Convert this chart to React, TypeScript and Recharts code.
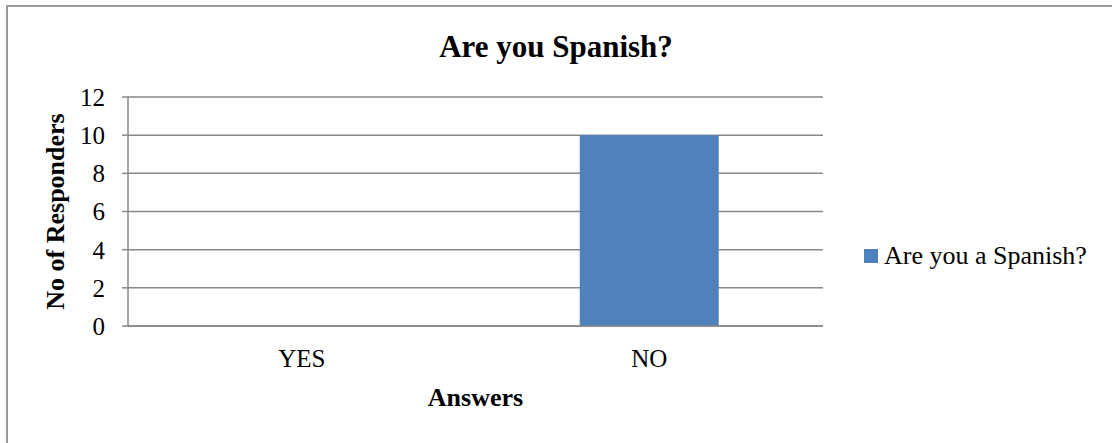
import React from "react";
import {
  BarChart,
  Bar,
  XAxis,
  YAxis,
  CartesianGrid,
  Legend,
  Label,
} from "recharts";

// ---- Data ------------------------------------------------------------------
const answers = ["YES", "NO"];
const responders = [0, 10];
const yTicks = [0, 2, 4, 6, 8, 10, 12];
const seriesName = "Are you a Spanish?";

const chartData = answers.map((a, i) => ({ answer: a, value: responders[i] }));

// ---- Styles ----------------------------------------------------------------
const FONT = "'Liberation Serif', 'Times New Roman', serif";
const BAR = "#4f81bd";
const GRID = "#878787";

const LegendBox = () => (
  <div
    style={{
      display: "flex",
      alignItems: "center",
      fontFamily: FONT,
      fontSize: 26,
      color: "#000",
      whiteSpace: "nowrap",
    }}
  >
    <span
      style={{
        display: "inline-block",
        width: 14,
        height: 14,
        background: BAR,
        marginRight: 6,
      }}
    />
    <span>{seriesName}</span>
  </div>
);

const App: React.FC = () => {
  return (
    <div
      style={{
        position: "absolute",
        left: 0,
        top: 0,
        width: 1112,
        height: 443,
        overflow: "hidden",
        background: "#fff",
      }}
    >
      {/* frame (only top + left edges visible in the crop) */}
      <div
        style={{
          position: "absolute",
          left: 6,
          top: 5,
          width: 2000,
          height: 2000,
          border: "2px solid #9a9a9a",
        }}
      />

      <div
        style={{
          position: "absolute",
          left: 0,
          top: 31,
          width: 1112,
          textAlign: "center",
          fontFamily: FONT,
          fontWeight: "bold",
          fontSize: 31,
          lineHeight: "31px",
          color: "#000",
        }}
      >
        Are you Spanish?
      </div>

      <div style={{ position: "absolute", left: 0, top: 0 }}>
        <BarChart
          width={1112}
          height={443}
          data={chartData}
          margin={{ top: 97, right: 289, left: 0, bottom: 0 }}
          barCategoryGap="30%"
        >
          <CartesianGrid vertical={false} stroke={GRID} strokeWidth={1.5} />
          <XAxis
            dataKey="answer"
            height={117}
            tickLine={false}
            tickSize={0}
            tickMargin={23}
            axisLine={{ stroke: GRID, strokeWidth: 1.5 }}
            tick={{ fontFamily: FONT, fontSize: 25, fill: "#000" }}
          >
            <Label
              value="Answers"
              position="center"
              dy={12}
              style={{
                fontFamily: FONT,
                fontSize: 26,
                fontWeight: "bold",
                fill: "#000",
              }}
            />
          </XAxis>
          <YAxis
            width={128}
            domain={[0, 12]}
            ticks={yTicks}
            interval={0}
            tickSize={6}
            tickMargin={17}
            axisLine={{ stroke: GRID, strokeWidth: 1.5 }}
            tickLine={{ stroke: GRID, strokeWidth: 1.5 }}
            tick={{ fontFamily: FONT, fontSize: 25, fill: "#000" }}
          >
            <Label
              value="No of Responders"
              angle={-90}
              position="center"
              dx={-9}
              style={{
                fontFamily: FONT,
                fontSize: 26,
                fontWeight: "bold",
                fill: "#000",
                textAnchor: "middle",
              }}
            />
          </YAxis>
          <Legend
            layout="horizontal"
            align="center"
            verticalAlign="middle"
            content={<LegendBox />}
            wrapperStyle={{ left: 864, top: 241, width: 240 }}
          />
          <Bar
            dataKey="value"
            name={seriesName}
            fill={BAR}
            isAnimationActive={false}
          />
        </BarChart>
      </div>
    </div>
  );
};

export default App;
